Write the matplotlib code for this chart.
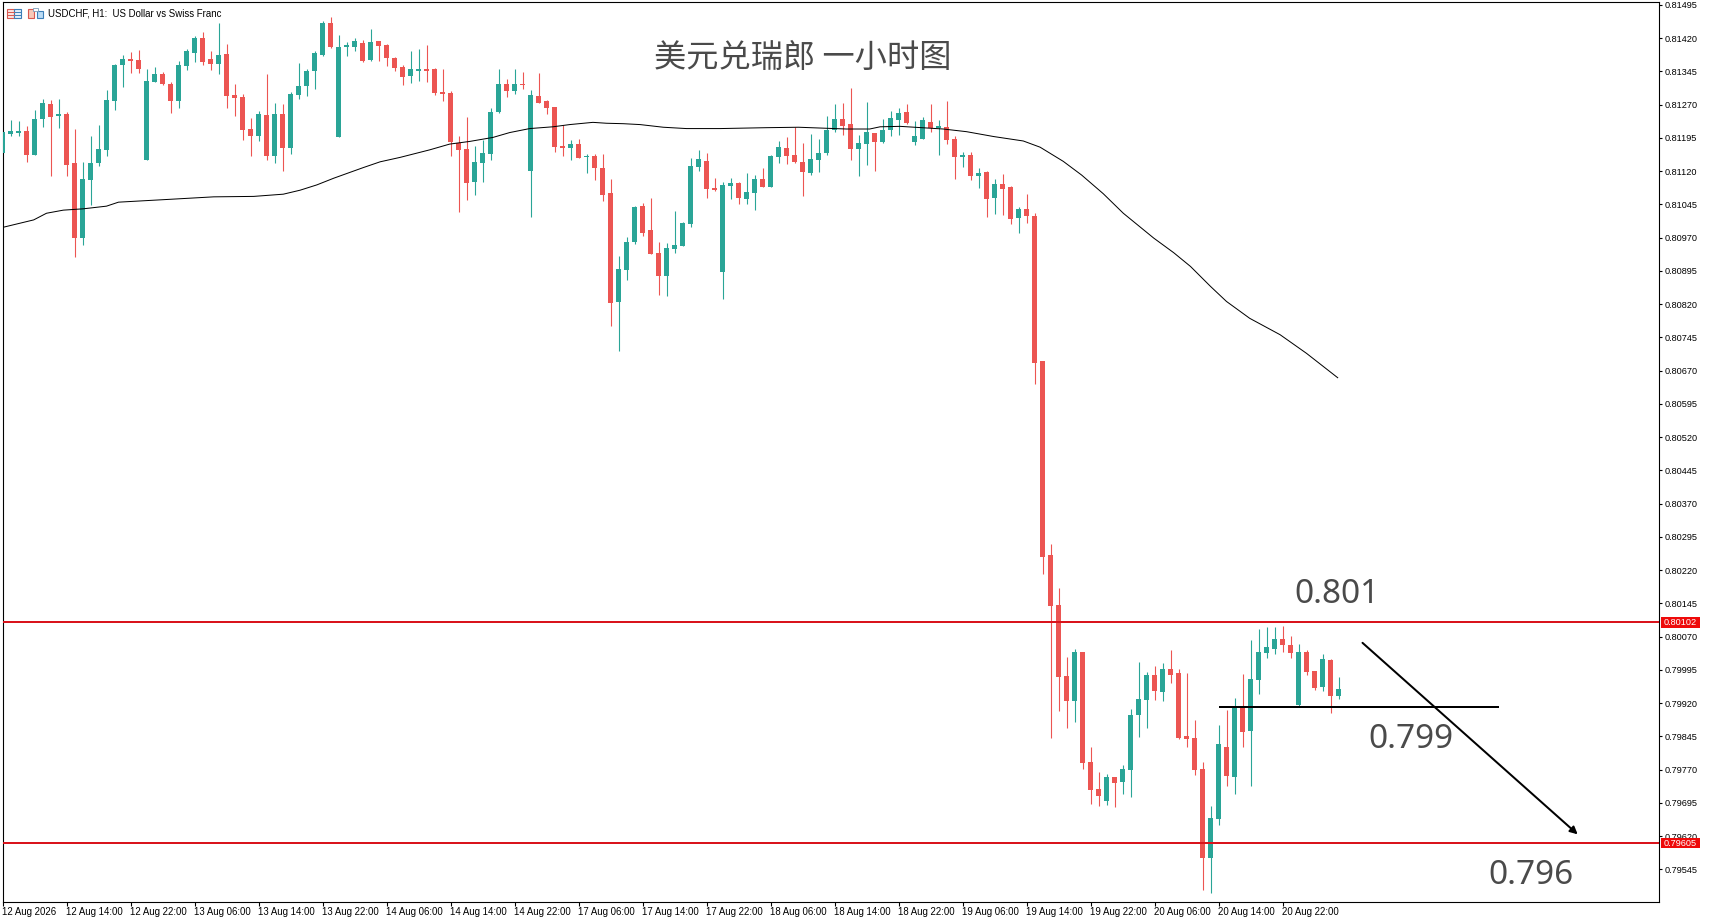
#
########################################################################
# Libraries
########################################################################
#
import numpy as np
import matplotlib
matplotlib.use("Agg")
import matplotlib.pyplot as plt
from matplotlib.patches import Rectangle

#
########################################################################
# Data, H1 candles in points (1 point = 0.00001)
########################################################################
#
opens = [
    81162, 81204, 81205, 81210, 81156, 81238, 81271, 81245, 81249, 81138,
    80969, 81100, 81138, 81168, 81278, 81359, 81373, 81371, 81145, 81321,
    81339, 81316, 81278, 81357, 81386, 81420, 81373, 81362, 81384, 81292,
    81287, 81215, 81199, 81247, 81154, 81249, 81172, 81292, 81312, 81346,
    81382, 81454, 81197, 81400, 81400, 81409, 81371, 81414, 81404, 81375,
    81355, 81335, 81346, 81350, 81350, 81298, 81296, 81183, 81170, 81095,
    81138, 81159, 81253, 81316, 81301, 81316, 81120, 81289, 81278, 81265,
    81177, 81172, 81181, 81152, 81154, 81127, 81071, 80825, 80897, 80960,
    81041, 80987, 80935, 80883, 80944, 80951, 81001, 81129, 81143, 81082,
    80892, 81086, 81093, 81057, 81071, 81102, 81084, 81152, 81172, 81156,
    81141, 81116, 81145, 81161, 81213, 81238, 81226, 81170, 81182, 81206,
    81186, 81213, 81236, 81254, 81186, 81193, 81231, 81218, 81220, 81193,
    81152, 81157, 81109, 81118, 81060, 81091, 81085, 81015, 81035, 81019,
    80692, 80254, 80141, 79981, 79925, 80035, 79787, 79726, 79699, 79753,
    79742, 79769, 79893, 79927, 79983, 79945, 79997, 79988, 79846, 79841,
    79771, 79570, 79658, 79821, 79753, 79911, 79857, 79972, 80033, 80042,
    80065, 80051, 79916, 80035, 79992, 79956, 80017, 79936,
]
highs = [
    81208, 81235, 81233, 81222, 81258, 81283, 81280, 81283, 81253, 81215,
    81141, 81199, 81224, 81303, 81362, 81382, 81389, 81393, 81350, 81356,
    81344, 81321, 81368, 81395, 81425, 81434, 81391, 81454, 81407, 81316,
    81294, 81240, 81256, 81339, 81274, 81271, 81298, 81364, 81350, 81391,
    81459, 81468, 81427, 81411, 81420, 81416, 81441, 81414, 81407, 81377,
    81359, 81391, 81395, 81404, 81353, 81350, 81301, 81199, 81242, 81177,
    81190, 81262, 81350, 81328, 81350, 81344, 81303, 81341, 81280, 81265,
    81224, 81190, 81192, 81159, 81159, 81159, 81102, 80928, 80971, 81041,
    81048, 81059, 80960, 80958, 81030, 81005, 81150, 81168, 81161, 81104,
    81095, 81104, 81095, 81116, 81111, 81127, 81156, 81188, 81197, 81219,
    81183, 81204, 81192, 81244, 81271, 81274, 81307, 81201, 81276, 81206,
    81238, 81256, 81263, 81272, 81234, 81243, 81272, 81236, 81279, 81200,
    81164, 81164, 81127, 81121, 81103, 81114, 81087, 81039, 81069, 81026,
    80692, 80279, 80180, 80024, 80042, 80035, 79821, 79765, 79760, 79753,
    79780, 79907, 80013, 79990, 80004, 80010, 80040, 79997, 79988, 79882,
    79787, 79688, 79871, 79904, 79931, 79986, 80062, 80087, 80092, 80092,
    80094, 80071, 80053, 80040, 79992, 80031, 80019, 79979,
]
lows = [
    81162, 81200, 81200, 81141, 81156, 81219, 81109, 81217, 81109, 80926,
    80953, 81044, 81132, 81154, 81258, 81310, 81341, 81341, 81145, 81321,
    81314, 81251, 81262, 81348, 81366, 81359, 81348, 81339, 81262, 81244,
    81190, 81154, 81188, 81145, 81138, 81120, 81159, 81283, 81289, 81305,
    81380, 81398, 81197, 81380, 81391, 81366, 81368, 81368, 81357, 81346,
    81314, 81319, 81323, 81321, 81292, 81278, 81154, 81028, 81055, 81066,
    81095, 81145, 81251, 81287, 81294, 81305, 81016, 81274, 81249, 81163,
    81154, 81145, 81150, 81116, 81100, 81053, 80771, 80714, 80874, 80956,
    80974, 80933, 80840, 80838, 80935, 80951, 80994, 81120, 81059, 81075,
    80831, 81057, 81046, 81046, 81032, 81084, 81084, 81138, 81136, 81138,
    81064, 81111, 81118, 81156, 81208, 81201, 81145, 81109, 81134, 81121,
    81184, 81200, 81202, 81227, 81179, 81193, 81209, 81157, 81182, 81103,
    81130, 81100, 81082, 81017, 81024, 81021, 81001, 80981, 81003, 80640,
    80211, 79841, 79902, 79864, 79877, 79771, 79692, 79688, 79690, 79686,
    79715, 79708, 79843, 79864, 79927, 79925, 79965, 79839, 79821, 79758,
    79498, 79491, 79645, 79733, 79715, 79821, 79733, 79941, 80022, 80031,
    80035, 80022, 79911, 79983, 79950, 79947, 79898, 79929,
]
closes = [
    81208, 81210, 81210, 81156, 81238, 81274, 81242, 81249, 81134, 80969,
    81102, 81138, 81170, 81280, 81359, 81373, 81368, 81350, 81323, 81339,
    81316, 81278, 81359, 81391, 81420, 81366, 81362, 81382, 81289, 81285,
    81213, 81199, 81249, 81154, 81249, 81172, 81294, 81312, 81346, 81386,
    81454, 81400, 81400, 81404, 81414, 81368, 81411, 81402, 81375, 81353,
    81332, 81350, 81350, 81346, 81296, 81295, 81186, 81168, 81093, 81141,
    81161, 81253, 81316, 81301, 81316, 81314, 81292, 81274, 81262, 81174,
    81172, 81181, 81150, 81154, 81127, 81066, 80822, 80899, 80960, 81039,
    80980, 80933, 80883, 80947, 80953, 81003, 81132, 81147, 81080, 81077,
    81089, 81093, 81059, 81073, 81102, 81084, 81154, 81174, 81154, 81141,
    81118, 81147, 81161, 81213, 81238, 81222, 81170, 81183, 81209, 81186,
    81213, 81240, 81252, 81229, 81200, 81236, 81218, 81220, 81191, 81152,
    81157, 81109, 81116, 81057, 81091, 81080, 81012, 81035, 81019, 80687,
    80250, 80139, 79979, 79925, 80035, 79785, 79724, 79710, 79753, 79740,
    79771, 79893, 79929, 79983, 79947, 79997, 79983, 79841, 79839, 79769,
    79570, 79661, 79828, 79755, 79911, 79855, 79974, 80035, 80047, 80065,
    80051, 80033, 80035, 79990, 79954, 80019, 79936, 79952,
]

# moving average, read at the vertices of the line
ma_x = [
    0, 3.9, 5.5, 7.6, 10.1, 13, 14.5, 20.5, 26.4, 31.4, 35.1, 37.2, 39.3,
    41.4, 43.4, 45.1, 47.2, 49.7, 53.4, 55.9, 58.4, 61.3, 63.4, 65.9, 68.8,
    70.9, 73.8, 75.5, 77.6, 79.7, 82.6, 85.5, 89.7, 95.5, 99.5, 105.5,
    108.4, 109.7, 112.2, 117.6, 120.5, 123.9, 127.6, 129.7, 132.6, 134.9,
    137.6, 140.1, 143.9, 146.4, 148.5, 151, 153, 155.9, 159.7, 163, 166.9,
]
ma_y = [
    80993, 81010, 81025, 81032, 81035, 81041, 81050, 81056, 81062, 81063,
    81068, 81077, 81089, 81104, 81117, 81128, 81141, 81151, 81168, 81181,
    81187, 81196, 81207, 81216, 81220, 81225, 81230, 81228, 81227, 81225,
    81219, 81216, 81216, 81218, 81219, 81215, 81215, 81220, 81221, 81215,
    81209, 81198, 81188, 81174, 81142, 81111, 81069, 81025, 80969, 80936,
    80905, 80860, 80826, 80788, 80751, 80709, 80654,
]

y_ticks = [
    0.81495, 0.81420, 0.81345, 0.81270, 0.81195, 0.81120, 0.81045, 0.80970,
    0.80895, 0.80820, 0.80745, 0.80670, 0.80595, 0.80520, 0.80445, 0.80370,
    0.80295, 0.80220, 0.80145, 0.80070, 0.79995, 0.79920, 0.79845, 0.79770,
    0.79695, 0.79620, 0.79545,
]
x_ticks = [0, 8, 16, 24, 32, 40, 48, 56, 64, 72, 80, 88, 96, 104, 112, 120,
           128, 136, 144, 152, 160]
x_labels = [
    "12 Aug 2026", "12 Aug 14:00", "12 Aug 22:00", "13 Aug 06:00",
    "13 Aug 14:00", "13 Aug 22:00", "14 Aug 06:00", "14 Aug 14:00",
    "14 Aug 22:00", "17 Aug 06:00", "17 Aug 14:00", "17 Aug 22:00",
    "18 Aug 06:00", "18 Aug 14:00", "18 Aug 22:00", "19 Aug 06:00",
    "19 Aug 14:00", "19 Aug 22:00", "20 Aug 06:00", "20 Aug 14:00",
    "20 Aug 22:00",
]

resistance = 0.80102
support = 0.79605
mid_level = 0.79912
mid_span = [152, 187]
arrow_from = [170, 0.80056]
arrow_to = [196.9, 0.79624]

#
########################################################################
# General settings
########################################################################
#
W, H = 1711, 923
TEAL = "#2aa597"
RED = "#ec5552"
TEXT_GREY = "#4a4a4a"
LINE_RED = "#d9141c"
PX = 72 / 100  # one pixel in points

plt.rcParams["font.family"] = ["Liberation Sans", "DejaVu Sans"]

fig = plt.figure(figsize=(W / 100, H / 100), dpi=100, facecolor="white")
left, right, top, bottom = 2.5, 1658.7, 2.0, 902.0
ax = fig.add_axes([left / W, 1 - bottom / H, (right - left) / W, (bottom - top) / H])

# pixel layer for the terminal furniture
ov = fig.add_axes([0, 0, 1, 1], zorder=5)
ov.set_xlim(0, W)
ov.set_ylim(H, 0)
ov.set_axis_off()
ov.patch.set_alpha(0)

#
########################################################################
# Candles
########################################################################
#
idx = np.arange(len(opens))
o = np.array(opens) / 1e5
h = np.array(highs) / 1e5
l = np.array(lows) / 1e5
c = np.array(closes) / 1e5
colors = np.where(c >= o, TEAL, RED)

ax.vlines(idx, l, h, colors=colors, linewidth=1.1 * PX, zorder=2)
body_low = np.minimum(o, c)
body_h = np.maximum(np.abs(c - o), 0.00003)
ax.bar(idx, body_h, bottom=body_low, width=5 / 8, color=colors, linewidth=0, zorder=3)

ax.plot(ma_x, np.array(ma_y) / 1e5, color="black", linewidth=1.0 * PX, zorder=4)

#
########################################################################
# Levels and arrow
########################################################################
#
for lev in (resistance, support):
    ax.axhline(lev, color=LINE_RED, linewidth=2 * PX, zorder=5)

ax.hlines(mid_level, mid_span[0], mid_span[1], color="black", linewidth=2 * PX, zorder=6)
ax.annotate("", xy=arrow_to, xytext=arrow_from,
            arrowprops=dict(arrowstyle="-|>", color="black", lw=2 * PX,
                            mutation_scale=11, shrinkA=0, shrinkB=0),
            zorder=6)

for txt, xp, yp in (("0.801", 166.8, 0.80164), ("0.799", 176.1, 0.79839), ("0.796", 191.1, 0.79532)):
    ax.text(xp, yp, txt, color=TEXT_GREY, fontsize=24, family="Noto Sans",
            ha="center", va="center", zorder=7)

#
########################################################################
# Axes
########################################################################
#
ax.set_xlim(0, (right - left) / 8)
ax.set_ylim(79471.4 / 1e5, 81501.5 / 1e5)

ax.yaxis.tick_right()
ax.set_yticks(y_ticks)
ax.set_yticklabels(["%.5f" % v for v in y_ticks])
ax.set_xticks(x_ticks)
ax.set_xticklabels(x_labels, ha="left")
ax.tick_params(axis="y", length=2.2, width=0.8, labelsize=6.6, pad=2.2, colors="black")
ax.tick_params(axis="x", length=2.9, width=0.8, labelsize=6.9, pad=0.6, colors="black")
for spine in ax.spines.values():
    spine.set_linewidth(1.1 * PX)
    spine.set_color("black")

#
########################################################################
# Title, header and price tags
########################################################################
#
ov.text(803, 58, "美元兑瑞郎 一小时图", color=TEXT_GREY, fontsize=23.2,
        family=["Noto Sans CJK SC", "DejaVu Sans"], ha="center", va="center")
ov.text(48.5, 13.5, "USDCHF, H1:  US Dollar vs Swiss Franc", color="black",
        fontsize=6.95, ha="left", va="center")

# the two small toolbar icons
ov.add_patch(Rectangle((7.5, 8.5), 7, 9.5, fc="#fbe3e0", ec="#d9584f", lw=0.8))
ov.add_patch(Rectangle((14.5, 8.5), 7, 9.5, fc="#e2eefa", ec="#3c7fb8", lw=0.8))
for yy in (11.5, 14.5):
    ov.plot([8, 14], [yy, yy], color="#d9584f", lw=0.7)
    ov.plot([15, 21], [yy, yy], color="#3c7fb8", lw=0.7)
ov.add_patch(Rectangle((28.5, 9), 6, 9, fc="#f7c8b8", ec="#d9584f", lw=0.8))
ov.add_patch(Rectangle((37, 10.5), 6, 7.5, fc="#bcdcf5", ec="#3c7fb8", lw=0.8))
ov.add_patch(Rectangle((33, 8), 5, 2.5, fc="white", ec="#7a9ab8", lw=0.6))

# price tags sit on the scale, over the tick labels
for lev, py in ((resistance, 622.4), (support, 842.7)):
    ov.add_patch(Rectangle((1661, py - 5), 39, 10.5, fc="#ee0a0a", ec="none"))
    ov.text(1664, py + 0.3, "%.5f" % lev, color="white", fontsize=6.6, ha="left", va="center")

fig.savefig("out.png", dpi=100, facecolor="white")

########################################################################
# END
########################################################################
